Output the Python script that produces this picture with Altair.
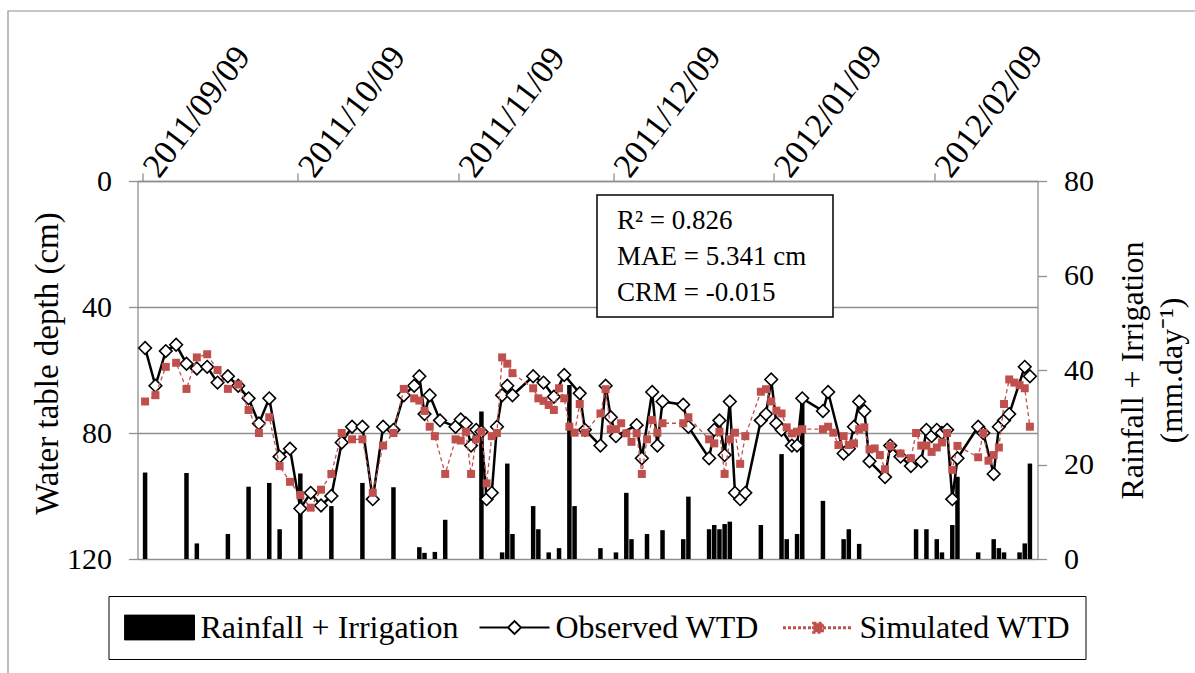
import altair as alt
import pandas as pd

START = "2011-09-09"

# Observed water table depth (cm), day offsets from 2011-09-09
obs_day = [0, 2, 4, 6, 8, 10, 12, 14, 16, 18, 20, 22, 24, 26, 28, 30, 32, 34, 36, 38,
           40, 42, 44, 46, 48, 50, 52, 53, 54, 55, 57, 60, 61, 62, 63, 64, 65, 66, 67, 68,
           69, 70, 71, 75, 77, 79, 81, 84, 85, 88, 89, 90, 91, 95, 96, 98, 99, 100, 104, 105,
           109, 110, 111, 112, 113, 114, 115, 116, 119, 120, 121, 122, 123, 125, 126, 127, 131, 132, 135, 136,
           137, 138, 139, 140, 143, 144, 146, 148, 150, 151, 152, 153, 154, 155, 156, 157, 161, 162, 164, 165,
           166, 167, 170, 171]
obs_depth = [53, 65, 54, 52, 58, 59.5, 59, 64, 62, 65, 69, 77, 69, 87.5, 85, 104, 99, 103, 100, 83,
             78, 78, 101, 78, 79, 68, 65, 62, 74, 68, 76, 78, 75.7, 77, 84, 79, 79.6, 101, 99, 78,
             68, 65, 68, 62, 64, 68.5, 61.6, 67.4, 79, 84, 65, 75, 81, 77.5, 88, 67, 84, 70, 71, 78,
             88, 79, 76, 87, 70, 99, 101, 99, 76, 74, 63, 77, 79, 84, 84, 69, 73, 67, 86.5, 85,
             78, 70, 73, 89, 94, 84, 87.5, 90.5, 89, 79, 81, 79, 80, 79, 101, 88, 78, 80, 93, 78,
             76, 74, 59, 62]

# Simulated water table depth (cm)
sim_day = [0, 2, 4, 6, 8, 10, 12, 14, 16, 18, 20, 22, 24, 26, 28, 30, 32, 34, 36, 38,
           40, 42, 44, 46, 48, 50, 52, 53, 54, 55, 56, 58, 60, 61, 62, 63, 64, 65, 66, 67,
           68, 69, 70, 71, 75, 76, 77, 78, 79, 80, 81, 82, 83, 84, 85, 88, 89, 90, 91, 92,
           93, 94, 95, 96, 97, 98, 99, 100, 104, 105, 109, 110, 111, 112, 113, 114, 115, 116, 119, 120,
           121, 122, 123, 124, 125, 126, 127, 131, 132, 133, 134, 135, 136, 137, 138, 139, 140, 141, 142, 143,
           144, 146, 148, 149, 150, 151, 152, 153, 154, 155, 156, 157, 161, 162, 163, 164, 165, 166, 167, 168,
           169, 170, 171]
sim_depth = [70, 68, 59, 57.7, 66, 56, 55, 60, 66, 64.6, 72.7, 80, 75, 90.5, 95.5, 99.7, 103.7, 98, 93, 80,
             82, 82, 99, 84, 80, 66, 69, 69.7, 73, 78, 81, 93, 82, 82.4, 79.6, 93, 82, 79.6, 96, 81,
             80, 56, 58, 61, 65.8, 69, 69.8, 71.1, 72.7, 65.8, 69, 78, 79.9, 70.8, 79.9, 73.8, 66.1, 78.8, 78.8, 76.9,
             80.1, 82.8, 80.1, 93, 82, 75.9, 79.9, 76.9, 76.9, 75, 82, 83.3, 79.6, 93, 82, 79.9, 89.8, 81, 66.9, 66.1,
             70, 72.9, 73.8, 78.2, 80.1, 79.6, 78.8, 78.8, 78, 79.9, 83.8, 81, 83.8, 83.3, 78.8, 78.2, 85.2, 84.9, 87, 91.5,
             84.1, 86.5, 88, 80, 84, 84, 86, 84.6, 83, 80, 91.7, 84.1, 87.7, 80, 88.8, 87, 84.6, 70.8, 63, 64,
             64.8, 65.8, 78]

# Rainfall + irrigation (mm/day)
rain_day = [0, 8, 10, 16, 20, 24, 26, 30, 36, 42, 48, 53, 54, 56, 58, 65, 69, 70, 71, 75,
            76, 78, 80, 82, 83, 88, 91, 93, 94, 97, 100, 104, 105, 109, 110, 111, 112, 113, 119, 123,
            124, 126, 127, 131, 135, 136, 138, 149, 151, 153, 154, 156, 157, 161, 164, 165, 166, 169, 170, 171]
rain_mm = [18.3, 18.2, 3.3, 5.3, 15.3, 16.1, 6.3, 18.1, 11.2, 16.1, 15.2, 2.5, 1.3, 1.5, 8.3, 31.2, 1.4, 20.2, 5.3, 11.2,
           6.3, 1.4, 2.3, 36.8, 11.2, 2.3, 1.4, 14.0, 4.2, 5.3, 6.1, 4.2, 13.2, 6.3, 7.2, 6.3, 7.4, 7.9, 7.2, 22.2,
           4.2, 5.3, 33.5, 12.3, 4.2, 6.3, 3.2, 6.3, 6.3, 4.2, 1.4, 7.2, 17.4, 1.4, 4.2, 2.3, 1.4, 1.4, 3.3, 20.2]

series_names = ["Rainfall + Irrigation", "Observed WTD", "Simulated WTD"]
month_ticks = [(2011, 9, 9), (2011, 10, 9), (2011, 11, 9), (2011, 12, 9), (2012, 1, 9), (2012, 2, 9)]
depth_ticks = [0, 40, 80, 120]
rain_ticks = [0, 20, 40, 60, 80]
stats_text = "R\u00b2 = 0.826\nMAE = 5.341 cm\nCRM = -0.015"

RED = "#C0504D"
GRID = "#8f8f8f"
FONT = "Liberation Serif"


def to_dates(days):
    return pd.Timestamp(START) + pd.to_timedelta(days, unit="D") + pd.Timedelta(hours=12)


obs_df = pd.DataFrame({"date": to_dates(obs_day), "depth": obs_depth})
sim_df = pd.DataFrame({"date": to_dates(sim_day), "depth": sim_depth})
rain_df = pd.DataFrame({"date": to_dates(rain_day), "rain": rain_mm})
legend_df = pd.DataFrame({"date": [pd.Timestamp("2011-08-01")] * 3, "depth": [60] * 3,
                          "series": series_names})

x_enc = alt.X(
    "date:T",
    scale=alt.Scale(domain=[alt.DateTime(year=2011, month=9, date=9),
                            alt.DateTime(year=2012, month=2, date=28)]),
    axis=alt.Axis(
        orient="top", title=None, grid=False, format="%Y/%m/%d", labelAngle=-53,
        values=[alt.DateTime(year=y, month=m, date=d) for (y, m, d) in month_ticks],
        labelOverlap=False, labelPadding=0, labelOffset=8, tickSize=8,
        labelFont=FONT, labelFontSize=34, labelBound=False,
    ),
)

y_depth = alt.Y(
    "depth:Q",
    scale=alt.Scale(domain=[0, 120], reverse=True),
    axis=alt.Axis(
        orient="left", values=depth_ticks, grid=True, title="Water table depth (cm)",
        labelPadding=17, titleX=-90, titleY=182, titleBaseline="middle", titleFontSize=33,
    ),
)

bars = alt.Chart(rain_df).mark_bar(size=4.5, color="black").encode(
    x=x_enc,
    y=alt.Y(
        "rain:Q",
        scale=alt.Scale(domain=[0, 80]),
        axis=alt.Axis(
            orient="right", values=rain_ticks, grid=False,
            title=["Rainfall + Irrigation", "(mm.day\u207b\u00b9)"],
            labelPadding=17, titleAngle=-90, titleX=95, titleY=189,
            titleBaseline="middle", titleLineHeight=39, titleFontSize=32,
        ),
    ),
)

obs_line = alt.Chart(obs_df).mark_line(color="black", strokeWidth=2.5).encode(x=x_enc, y=y_depth)
obs_pts = alt.Chart(obs_df).mark_point(
    shape="diamond", size=160, filled=True, fill="white", stroke="black", strokeWidth=1.6, opacity=1
).encode(x=x_enc, y=y_depth)
sim_line = alt.Chart(sim_df).mark_line(color=RED, strokeWidth=1.3, strokeDash=[4, 3]).encode(x=x_enc, y=y_depth)
sim_pts = alt.Chart(sim_df).mark_point(
    shape="square", size=64, filled=True, color=RED, opacity=1
).encode(x=x_enc, y=y_depth)

# legend glyphs: 70 px wide, drawn with a 30 px symbol box (15 px per path unit)
legend_paths = [
    "M-1,-0.83H3.667V0.83H-1Z",
    "M-1,0H0.9M1.767,0H3.667M0.9,0L1.333,-0.433L1.767,0L1.333,0.433Z",
    "M-1,0H3.667M1.033,-0.3H1.633V0.3H1.033Z",
]
legend_layer = alt.Chart(legend_df).mark_point(clip=True, filled=False, opacity=1).encode(
    x=x_enc,
    y=y_depth,
    shape=alt.Shape(
        "series:N",
        scale=alt.Scale(domain=series_names, range=legend_paths),
        legend=alt.Legend(
            title=None, orient="none", legendX=-29, legendY=415, direction="horizontal",
            symbolSize=900, symbolOpacity=1, labelFont=FONT, labelFontSize=32, labelColor="black",
            labelLimit=500, labelOffset=45, columnPadding=17, padding=15,
            strokeColor="black", fillColor="white",
        ),
    ),
    fill=alt.Fill("series:N", scale=alt.Scale(domain=series_names, range=["black", "white", RED]), legend=alt.Legend(title=None)),
    stroke=alt.Stroke("series:N", scale=alt.Scale(domain=series_names, range=["black", "black", RED]), legend=alt.Legend(title=None)),
    strokeDash=alt.StrokeDash("series:N", scale=alt.Scale(domain=series_names, range=[[1, 0], [1, 0], [3, 2]]), legend=alt.Legend(title=None)),
    strokeWidth=alt.StrokeWidth("series:N", scale=alt.Scale(domain=series_names, range=[1, 2.8, 1.3]), legend=alt.Legend(title=None)),
)

depth_layers = alt.layer(obs_line, obs_pts, sim_line, sim_pts, legend_layer)

one_row = pd.DataFrame({"k": [0]})
frame = alt.Chart(one_row).mark_rect(fill=None, stroke=GRID, strokeWidth=1.2).encode(
    x=alt.value(-129.5), x2=alt.value(1062.5), y=alt.value(-170), y2=alt.value(497)
)
box = alt.Chart(one_row).mark_rect(fill="white", stroke="black", strokeWidth=1.5).encode(
    x=alt.value(459.5), x2=alt.value(695.5), y=alt.value(14), y2=alt.value(136)
)
box_text = alt.Chart(one_row).mark_text(
    align="left", baseline="alphabetic", font=FONT, fontSize=27, color="black",
    lineBreak="\n", lineHeight=36,
).encode(x=alt.value(479.5), y=alt.value(48), text=alt.value(stats_text))

chart = alt.layer(frame, bars, depth_layers, box, box_text).resolve_scale(
    y="independent"
).properties(
    width=900, height=378,
    autosize=alt.AutoSizeParams(type="none"),
    padding={"left": 137.5, "top": 181, "right": 157.5, "bottom": 114},
    background="white",
).configure_view(stroke=None).configure_axis(
    labelFont=FONT, labelFontSize=30, labelColor="black",
    titleFont=FONT, titleFontSize=30, titleFontWeight="normal", titleColor="black",
    domainColor=GRID, domainWidth=1.3, tickColor=GRID, tickWidth=1.3, tickSize=9,
    gridColor=GRID, gridWidth=1.3,
)

chart.save("out.html", embed_options={"renderer": "svg", "actions": False})
